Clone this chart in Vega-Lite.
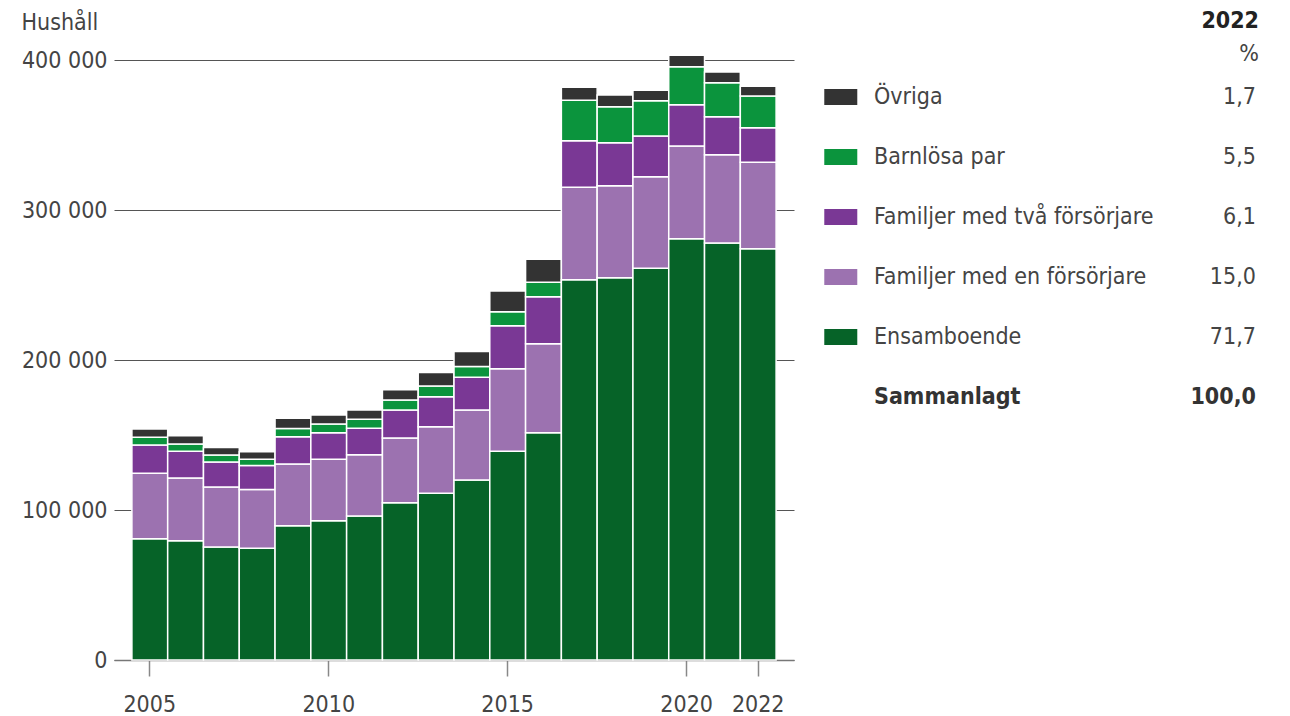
{
  "$schema": "https://vega.github.io/schema/vega-lite/v6.json",
  "padding": {"left": 21, "top": 10, "right": 5, "bottom": 5},
  "bounds": "flush",
  "spacing": 25,
  "background": "white",
  "config": {
    "font": "Liberation Sans Narrow, DejaVu Sans Condensed, sans-serif",
    "view": {"stroke": null}
  },
  "datasets": {
    "hushall": [
      {"year": 2005, "Ensamboende": 80900, "Familjer med en försörjare": 43600, "Familjer med två försörjare": 18900, "Barnlösa par": 5100, "Övriga": 5500},
      {"year": 2006, "Ensamboende": 79500, "Familjer med en försörjare": 41800, "Familjer med två försörjare": 17800, "Barnlösa par": 4900, "Övriga": 5500},
      {"year": 2007, "Ensamboende": 75300, "Familjer med en försörjare": 40000, "Familjer med två försörjare": 16700, "Barnlösa par": 4700, "Övriga": 4900},
      {"year": 2008, "Ensamboende": 74500, "Familjer med en försörjare": 39100, "Familjer med två försörjare": 16000, "Barnlösa par": 4300, "Övriga": 4900},
      {"year": 2009, "Ensamboende": 89500, "Familjer med en försörjare": 41100, "Familjer med två försörjare": 18200, "Barnlösa par": 5600, "Övriga": 6700},
      {"year": 2010, "Ensamboende": 92900, "Familjer med en försörjare": 40900, "Familjer med två försörjare": 17700, "Barnlösa par": 5800, "Övriga": 6000},
      {"year": 2011, "Ensamboende": 96000, "Familjer med en försörjare": 40900, "Familjer med två försörjare": 17600, "Barnlösa par": 6000, "Övriga": 6200},
      {"year": 2012, "Ensamboende": 104900, "Familjer med en försörjare": 43100, "Familjer med två försörjare": 18700, "Barnlösa par": 6700, "Övriga": 6700},
      {"year": 2013, "Ensamboende": 111100, "Familjer med en försörjare": 44400, "Familjer med två försörjare": 20000, "Barnlösa par": 7100, "Övriga": 9100},
      {"year": 2014, "Ensamboende": 120000, "Familjer med en försörjare": 46700, "Familjer med två försörjare": 21800, "Barnlösa par": 7100, "Övriga": 10000},
      {"year": 2015, "Ensamboende": 139100, "Familjer med en försörjare": 55100, "Familjer med två försörjare": 28700, "Barnlösa par": 9300, "Övriga": 13800},
      {"year": 2016, "Ensamboende": 151500, "Familjer med en försörjare": 59300, "Familjer med två försörjare": 31300, "Barnlösa par": 9800, "Övriga": 15300},
      {"year": 2017, "Ensamboende": 253500, "Familjer med en försörjare": 61600, "Familjer med två försörjare": 31100, "Barnlösa par": 26900, "Övriga": 8700},
      {"year": 2018, "Ensamboende": 254900, "Familjer med en försörjare": 61300, "Familjer med två försörjare": 28700, "Barnlösa par": 24000, "Övriga": 7800},
      {"year": 2019, "Ensamboende": 261100, "Familjer med en försörjare": 61100, "Familjer med två försörjare": 27100, "Barnlösa par": 23500, "Övriga": 7100},
      {"year": 2020, "Ensamboende": 280900, "Familjer med en försörjare": 61800, "Familjer med två försörjare": 27500, "Barnlösa par": 25300, "Övriga": 7600},
      {"year": 2021, "Ensamboende": 278000, "Familjer med en försörjare": 58900, "Familjer med två försörjare": 25300, "Barnlösa par": 22700, "Övriga": 7100},
      {"year": 2022, "Ensamboende": 274200, "Familjer med en försörjare": 57600, "Familjer med två försörjare": 23100, "Barnlösa par": 21100, "Övriga": 6500}
    ],
    "andel": [
      {"typ": "Övriga", "pct": "1,7"},
      {"typ": "Barnlösa par", "pct": "5,5"},
      {"typ": "Familjer med två försörjare", "pct": "6,1"},
      {"typ": "Familjer med en försörjare", "pct": "15,0"},
      {"typ": "Ensamboende", "pct": "71,7"},
      {"typ": "Sammanlagt", "pct": "100,0"}
    ]
  },
  "hconcat": [
    {
      "width": 680,
      "height": 600,
      "title": {"text": "Hushåll", "anchor": "start", "frame": "bounds", "fontSize": 23, "fontWeight": "normal", "color": "#444444", "offset": 14},
      "data": {"name": "hushall"},
      "transform": [
        {"fold": ["Ensamboende", "Familjer med en försörjare", "Familjer med två försörjare", "Barnlösa par", "Övriga"], "as": ["typ", "antal"]},
        {"calculate": "indexof(['Ensamboende', 'Familjer med en försörjare', 'Familjer med två försörjare', 'Barnlösa par', 'Övriga'], datum.typ)", "as": "ordning"}
      ],
      "mark": {"type": "bar", "stroke": "white", "strokeWidth": 1.5},
      "encoding": {
        "x": {
          "field": "year", "type": "ordinal",
          "scale": {"paddingInner": 0, "paddingOuter": 0.5},
          "axis": {
            "title": null, "values": [2005, 2010, 2015, 2020, 2022], "labelAngle": 0,
            "labelFontSize": 23, "labelColor": "#444444", "labelPadding": 17,
            "tickSize": 16, "tickColor": "#888888", "tickWidth": 1.5,
            "domainColor": "#777777", "domainWidth": 1.5, "grid": false
          }
        },
        "y": {
          "field": "antal", "type": "quantitative", "stack": "zero",
          "scale": {"domain": [0, 400000], "nice": false},
          "axis": {
            "title": null, "values": [0, 100000, 200000, 300000, 400000],
            "labelExpr": "replace(format(datum.value, ','), ',', ' ')",
            "labelFontSize": 23, "labelColor": "#444444", "labelPadding": 7,
            "ticks": false, "domain": false, "grid": true, "gridColor": "#555555", "gridWidth": 1
          }
        },
        "order": {"field": "ordning", "type": "quantitative", "sort": "ascending"},
        "color": {
          "field": "typ", "type": "nominal",
          "scale": {
            "domain": ["Ensamboende", "Familjer med en försörjare", "Familjer med två försörjare", "Barnlösa par", "Övriga"],
            "range": ["#066328", "#9c72b0", "#7a3895", "#0b943d", "#333333"]
          },
          "legend": null
        }
      }
    },
    {
      "width": 440,
      "height": 600,
      "title": {"text": "2022", "subtitle": "%", "anchor": "end", "frame": "group", "fontSize": 23, "fontWeight": "bold", "color": "#222222", "subtitleFontSize": 23, "subtitleColor": "#444444", "subtitlePadding": 10, "offset": -6},
      "data": {"name": "andel"},
      "encoding": {
        "y": {
          "field": "typ", "type": "nominal",
          "scale": {
            "type": "band",
            "domain": ["Övriga", "Barnlösa par", "Familjer med två försörjare", "Familjer med en försörjare", "Ensamboende", "Sammanlagt"],
            "range": [7, 367], "paddingInner": 0.733, "paddingOuter": 0.3665
          },
          "axis": null
        }
      },
      "layer": [
        {
          "transform": [{"filter": "datum.typ != 'Sammanlagt'"}],
          "mark": {"type": "rect"},
          "encoding": {
            "x": {"datum": 1.2, "type": "quantitative", "scale": {"domain": [0, 100]}, "axis": null},
            "x2": {"datum": 8.7},
            "color": {
              "field": "typ", "type": "nominal",
              "scale": {
                "domain": ["Ensamboende", "Familjer med en försörjare", "Familjer med två försörjare", "Barnlösa par", "Övriga"],
                "range": ["#066328", "#9c72b0", "#7a3895", "#0b943d", "#333333"]
              },
              "legend": null
            }
          }
        },
        {
          "transform": [{"filter": "datum.typ != 'Sammanlagt'"}],
          "mark": {"type": "text", "align": "left", "baseline": "middle", "fontSize": 23, "color": "#444444"},
          "encoding": {
            "x": {"datum": 12.5, "type": "quantitative"},
            "text": {"field": "typ"}
          }
        },
        {
          "transform": [{"filter": "datum.typ != 'Sammanlagt'"}],
          "mark": {"type": "text", "align": "right", "baseline": "middle", "fontSize": 23, "color": "#444444"},
          "encoding": {
            "x": {"datum": 99.3, "type": "quantitative"},
            "text": {"field": "pct"}
          }
        },
        {
          "transform": [{"filter": "datum.typ == 'Sammanlagt'"}],
          "mark": {"type": "text", "align": "left", "baseline": "middle", "fontSize": 23, "fontWeight": "bold", "color": "#333333"},
          "encoding": {
            "x": {"datum": 12.5, "type": "quantitative"},
            "text": {"field": "typ"}
          }
        },
        {
          "transform": [{"filter": "datum.typ == 'Sammanlagt'"}],
          "mark": {"type": "text", "align": "right", "baseline": "middle", "fontSize": 23, "fontWeight": "bold", "color": "#333333"},
          "encoding": {
            "x": {"datum": 99.3, "type": "quantitative"},
            "text": {"field": "pct"}
          }
        }
      ]
    }
  ]
}
